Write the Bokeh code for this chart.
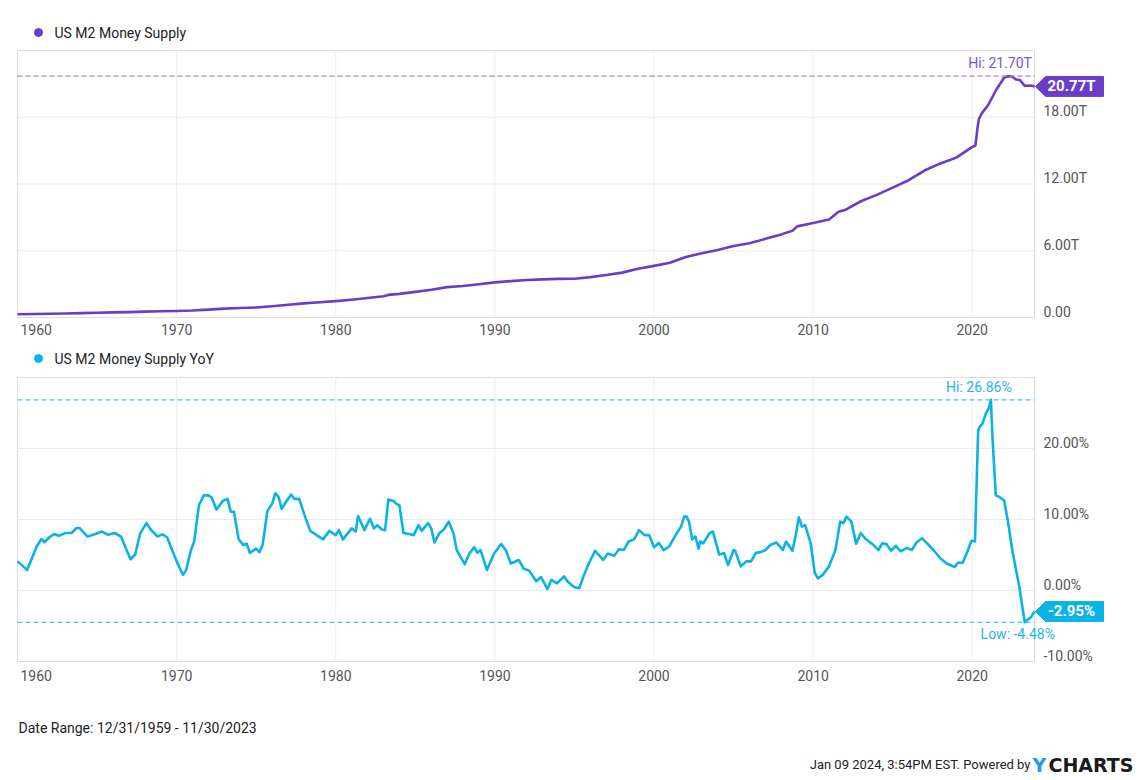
import numpy as np
from bokeh.plotting import figure
from bokeh.layouts import column
from bokeh.models import Range1d, FixedTicker
from bokeh.embed import file_html
from bokeh.resources import INLINE
from bokeh.core.properties import value

FONT = "Roboto"
PURPLE = "#6a3dc8"
PURPLE_LIGHT = "#9d80e0"
PURPLE_TEXT = "#7b55d4"
CYAN = "#0ab3e6"
CYAN_LIGHT = "#4cc6ec"
CYAN_TEXT = "#27b6e6"
GRID = "#ebebeb"
FRAME = "#dedede"
TICK_TXT = "#555555"
TXT = "#222222"

# ---------------- data ----------------
series_names = ["US M2 Money Supply", "US M2 Money Supply YoY"]
date_range_text = "Date Range: 12/31/1959 - 11/30/2023"
stamp_text = "Jan 09 2024, 3:54PM EST. Powered by"
logo_parts = ["Y", "CHARTS"]

m2_years = [1960.0, 1961.0, 1962.0, 1963.0, 1964.0, 1965.0, 1966.0, 1967.0, 1968.0, 1969.0,
            1970.0, 1971.0, 1972.0, 1973.0, 1974.0, 1975.0, 1976.0, 1977.0, 1978.0, 1979.0,
            1980.0, 1981.0, 1982.0, 1983.0, 1983.3, 1984.0, 1985.0, 1986.0, 1987.0, 1988.0,
            1989.0, 1990.0, 1991.0, 1992.0, 1993.0, 1994.0, 1995.0, 1996.0, 1997.0, 1998.0,
            1999.0, 2000.0, 2001.0, 2002.0, 2003.0, 2004.0, 2005.0, 2006.0, 2007.0, 2008.0,
            2008.7, 2009.0, 2010.0, 2011.0, 2011.6, 2012.0, 2013.0, 2014.0, 2015.0, 2016.0,
            2017.0, 2018.0, 2019.0, 2020.0, 2020.2, 2020.25, 2020.33, 2020.42, 2020.6, 2021.0,
            2021.5, 2022.0, 2022.25, 2022.5, 2022.75, 2023.0, 2023.3, 2023.5, 2023.75, 2023.92]
m2_values = [0.297, 0.312, 0.335, 0.362, 0.393, 0.424, 0.459, 0.480, 0.525, 0.567,
             0.588, 0.627, 0.711, 0.802, 0.856, 0.902, 1.017, 1.152, 1.271, 1.367,
             1.474, 1.600, 1.756, 1.906, 2.030, 2.124, 2.306, 2.492, 2.729, 2.828,
             2.990, 3.154, 3.272, 3.372, 3.424, 3.474, 3.486, 3.630, 3.819, 4.033,
             4.375, 4.638, 4.925, 5.433, 5.772, 6.067, 6.419, 6.680, 7.069, 7.471,
             7.800, 8.192, 8.496, 8.800, 9.500, 9.660, 10.45, 11.02, 11.68, 12.34,
             13.21, 13.85, 14.37, 15.33, 15.46, 16.05, 17.05, 17.85, 18.35, 19.10,
             20.45, 21.55, 21.70, 21.66, 21.40, 21.35, 20.82, 20.85, 20.83, 20.77]

yoy_years = [1960.0, 1960.3, 1960.6, 1960.9, 1961.2, 1961.5, 1961.7, 1962.0, 1962.3, 1962.6,
             1963.0, 1963.4, 1963.7, 1963.9, 1964.4, 1964.9, 1965.3, 1965.7, 1966.1, 1966.5,
             1966.8, 1967.1, 1967.4, 1967.7, 1968.1, 1968.4, 1968.8, 1969.1, 1969.4, 1969.8,
             1970.1, 1970.4, 1970.6, 1970.9, 1971.1, 1971.4, 1971.7, 1972.0, 1972.2, 1972.5,
             1972.9, 1973.2, 1973.4, 1973.6, 1973.9, 1974.2, 1974.4, 1974.6, 1975.0, 1975.2,
             1975.4, 1975.7, 1976.0, 1976.2, 1976.4, 1976.6, 1976.9, 1977.2, 1977.4, 1977.7,
             1978.1, 1978.4, 1978.8, 1979.2, 1979.6, 1980.0, 1980.2, 1980.45, 1981.0, 1981.25,
             1981.4, 1981.8, 1982.15, 1982.4, 1982.6, 1982.9, 1983.1, 1983.3, 1983.65, 1983.8,
             1984.0, 1984.25, 1984.6, 1984.9, 1985.2, 1985.4, 1985.8, 1986.0, 1986.2, 1986.5,
             1986.8, 1987.1, 1987.4, 1987.6, 1988.1, 1988.4, 1988.7, 1988.9, 1989.1, 1989.5,
             1989.95, 1990.4, 1990.7, 1991.0, 1991.5, 1991.8, 1992.15, 1992.6, 1992.9, 1993.3,
             1993.55, 1993.9, 1994.35, 1994.55, 1994.97, 1995.3, 1995.6, 1995.9, 1996.3, 1996.8,
             1997.1, 1997.5, 1997.8, 1998.1, 1998.4, 1998.75, 1999.06, 1999.4, 1999.7, 2000.0,
             2000.3, 2000.6, 2000.95, 2001.36, 2001.7, 2001.9, 2002.05, 2002.2, 2002.4, 2002.6,
             2002.8, 2002.9, 2003.1, 2003.5, 2003.7, 2004.1, 2004.4, 2004.65, 2005.0, 2005.1,
             2005.45, 2005.8, 2006.1, 2006.4, 2006.7, 2007.0, 2007.3, 2007.7, 2008.1, 2008.3,
             2008.7, 2008.9, 2009.1, 2009.3, 2009.5, 2009.85, 2010.1, 2010.3, 2010.6, 2011.0,
             2011.4, 2011.7, 2011.9, 2012.1, 2012.4, 2012.7, 2013.0, 2013.3, 2013.8, 2014.1,
             2014.35, 2014.6, 2014.9, 2015.2, 2015.5, 2015.9, 2016.2, 2016.5, 2016.85, 2017.2,
             2017.6, 2018.0, 2018.4, 2018.9, 2019.1, 2019.4, 2019.7, 2019.95, 2020.17, 2020.37,
             2020.45, 2020.64, 2020.85, 2021.06, 2021.17, 2021.27, 2021.48, 2021.69, 2022.0, 2022.26,
             2022.53, 2022.95, 2023.3, 2023.5, 2023.72, 2023.92]
yoy_values = [4.1, 3.5, 2.9, 4.5, 6.2, 7.25, 6.8, 7.5, 7.95, 7.7,
              8.1, 8.1, 8.8, 8.8, 7.6, 7.95, 8.3, 7.85, 8.1, 7.6,
              6.0, 4.4, 5.1, 8.0, 9.5, 8.5, 7.6, 7.9, 7.5, 5.2,
              3.6, 2.2, 2.9, 5.7, 6.9, 12.0, 13.4, 13.4, 13.1, 11.4,
              12.6, 12.9, 11.1, 11.1, 7.2, 6.4, 6.6, 5.3, 5.9, 5.4,
              6.4, 11.2, 12.2, 13.7, 13.2, 11.5, 12.6, 13.5, 12.9, 12.9,
              10.2, 8.4, 7.8, 7.2, 8.4, 7.8, 8.5, 7.2, 8.75, 8.3,
              10.5, 8.5, 10.1, 8.75, 9.2, 8.6, 8.5, 12.8, 12.6, 12.2,
              12.0, 8.1, 7.95, 7.8, 9.2, 8.4, 9.5, 8.75, 6.75, 8.05,
              8.6, 9.7, 8.05, 5.7, 3.7, 5.2, 6.1, 5.3, 5.7, 2.9,
              5.2, 6.55, 5.6, 3.8, 4.3, 3.1, 2.8, 1.3, 1.9, 0.2,
              1.5, 1.0, 2.0, 1.3, 0.5, 0.3, 2.2, 3.8, 5.6, 4.3,
              5.2, 4.9, 5.8, 5.7, 6.9, 7.2, 8.5, 7.8, 7.8, 6.1,
              6.7, 5.7, 6.2, 7.8, 9.0, 10.4, 10.4, 9.7, 7.2, 7.6,
              5.9, 6.9, 6.65, 8.1, 8.3, 5.05, 5.3, 3.6, 5.7, 5.6,
              3.4, 4.1, 4.1, 5.3, 5.4, 5.7, 6.4, 6.75, 5.7, 6.9,
              5.6, 7.7, 10.3, 9.0, 9.2, 6.65, 2.5, 1.7, 2.2, 3.4,
              5.7, 9.7, 9.5, 10.4, 9.7, 6.6, 8.1, 7.25, 6.4, 5.7,
              6.65, 6.55, 5.6, 6.3, 5.5, 6.0, 5.7, 6.75, 7.35, 6.55,
              5.6, 4.5, 3.8, 3.3, 3.9, 3.9, 5.5, 7.0, 6.9, 22.5,
              23.0, 23.5, 24.9, 25.8, 26.86, 21.6, 13.4, 13.2, 12.7, 9.5,
              5.5, 0.6, -4.48, -4.1, -3.65, -2.95]

x_tick_years = [1970, 1980, 1990, 2000, 2010, 2020]
first_year_label = "1960"

m2_ticks = [0, 6, 12, 18]
m2_tick_labels = ["0.00", "6.00T", "12.00T", "18.00T"]
yoy_ticks = [-10, 0, 10, 20]
yoy_tick_labels = ["-10.00%", "0.00%", "10.00%", "20.00%"]

# ---------------- layout (pixels) ----------------
X_START = 1959 + 364 / 365      # 12/31/1959
X_END = 2023 + 333 / 365        # 11/30/2023
W = 1137                        # figure / frame width
BOX_L = 17                      # plot box left edge
BOX_W = 1017                    # plot box width
DX = (X_END - X_START) / BOX_W  # years per pixel
X_LO = X_START - BOX_L * DX
X_HI = X_START + (W - BOX_L) * DX


def make_panel(xs, ys, color, light, txt_color, name, y_start, y_end, ticks, tick_labels,
               box_h, head, legend_gap, standoff, suffix, show_low, hi_dx, lo_dx):
    dy = (y_end - y_start) / box_h
    frame_h = head + box_h + 1
    p = figure(frame_width=W, frame_height=frame_h,
               x_range=Range1d(X_LO, X_HI), y_range=Range1d(y_start - dy, y_end + head * dy),
               output_backend="svg", toolbar_location=None,
               min_border_left=0, min_border_right=0, min_border_top=0, min_border_bottom=24,
               y_axis_location=None, background_fill_color="white",
               border_fill_color="white")
    p.outline_line_color = None
    p.grid.visible = False

    # x axis (the first label sits just inside the box, as in the original)
    first_pos = X_START + 18.7 * DX
    tick_pos = [first_pos] + x_tick_years
    p.xaxis.ticker = FixedTicker(ticks=tick_pos)
    overrides = {t: str(t) for t in x_tick_years}
    overrides[first_pos] = first_year_label
    p.xaxis.major_label_overrides = overrides
    p.xaxis.axis_line_color = None
    p.xaxis.major_tick_line_color = None
    p.xaxis.minor_tick_line_color = None
    p.xaxis.major_tick_out = 0
    p.xaxis.major_tick_in = 0
    p.xaxis.minor_tick_out = 0
    p.xaxis.minor_tick_in = 0
    p.xaxis.major_label_standoff = standoff
    p.xaxis.major_label_text_font = FONT
    p.xaxis.major_label_text_font_size = "14px"
    p.xaxis.major_label_text_color = TICK_TXT

    # grid inside the plot box
    p.segment(x0=x_tick_years, y0=[y_start] * len(x_tick_years), x1=x_tick_years,
              y1=[y_end] * len(x_tick_years), line_color=GRID, line_width=1)
    p.segment(x0=[X_START] * len(ticks), y0=ticks, x1=[X_END] * len(ticks), y1=ticks,
              line_color=GRID, line_width=1)
    # plot box
    p.quad(left=[X_START], right=[X_END], bottom=[y_start], top=[y_end],
           fill_alpha=0, line_color=FRAME, line_width=1)

    # y tick labels on the right, floating just above their gridlines
    p.text(x=[X_END + 9 * DX] * len(ticks), y=[t + 6 * dy for t in ticks], text=tick_labels,
           text_font=value(FONT), text_font_size="14px", text_color=TICK_TXT,
           text_align="left", text_baseline="middle")

    # series line
    p.line(xs, ys, line_color=color, line_width=2.6, line_join="round")

    # hi / low markers
    arr = np.array(ys)
    i_hi = int(np.argmax(arr))
    hi = float(arr[i_hi])
    p.segment(x0=[X_START], y0=[hi], x1=[X_END], y1=[hi], line_color=light,
              line_width=1.3, line_dash="5 3")
    p.text(x=[xs[i_hi] + hi_dx * DX], y=[hi + 5 * dy], text=[f"Hi: {hi:.2f}{suffix}"],
           text_font=value(FONT), text_font_size="14px", text_color=txt_color,
           text_align="center", text_baseline="bottom")
    if show_low:
        i_lo = int(np.argmin(arr))
        lo = float(arr[i_lo])
        p.segment(x0=[X_START], y0=[lo], x1=[X_END], y1=[lo], line_color=light,
                  line_width=1.3, line_dash="5 3")
        p.text(x=[xs[i_lo] + lo_dx * DX], y=[lo - 4 * dy], text=[f"Low: {lo:.2f}{suffix}"],
               text_font=value(FONT), text_font_size="14px", text_color=txt_color,
               text_align="center", text_baseline="top")

    # last value flag: pointer + box
    last = ys[-1]
    fx = [X_END + k * DX for k in (1, 11, 69, 69, 11)]
    fy = [last, last + 10 * dy, last + 10 * dy, last - 10 * dy, last - 10 * dy]
    p.patch(fx, fy, fill_color=color, line_color=color, line_width=1)
    p.text(x=[X_END + 37 * DX], y=[last], text=[f"{last:.2f}{suffix}"],
           text_font=value(FONT), text_font_size="15px", text_font_style="bold",
           text_color="white", text_align="center", text_baseline="middle")

    # legend (dot + name) above the box
    ly = y_end + legend_gap * dy
    p.scatter(x=[X_START + 21 * DX], y=[ly], marker="circle", size=8, color=color)
    p.text(x=[X_START + 37 * DX], y=[ly], text=[name], text_font=value(FONT),
           text_font_size="14px", text_color=TXT, text_align="left", text_baseline="middle")
    return p


p1 = make_panel(m2_years, m2_values, PURPLE, PURPLE_LIGHT, PURPLE_TEXT, series_names[0],
                0, 24, m2_ticks, m2_tick_labels, 267, 50, 18, 5, "T", False, -8, 0)
p2 = make_panel(yoy_years, yoy_values, CYAN, CYAN_LIGHT, CYAN_TEXT, series_names[1],
                -10, 30, yoy_ticks, yoy_tick_labels, 284, 35, 19, 7, "%", True, -12, -7)

# footer
FH = 89
pf = figure(frame_width=W, frame_height=FH, x_range=Range1d(0, W), y_range=Range1d(0, FH),
            output_backend="svg", toolbar_location=None, x_axis_location=None,
            y_axis_location=None, min_border_left=0, min_border_right=0,
            min_border_top=0, min_border_bottom=0)
pf.outline_line_color = None
pf.grid.visible = False
pf.text(x=[18], y=[48], text=[date_range_text], text_font=value(FONT),
        text_font_size="14px", text_baseline="middle", text_align="left", text_color=TXT)
pf.text(x=[1030], y=[11], text=[stamp_text], text_font=value(FONT),
        text_font_size="13px", text_baseline="middle", text_align="right", text_color=TXT)
pf.text(x=[1032], y=[11], text=[logo_parts[0]], text_font=value("DejaVu Sans"),
        text_font_size="19px", text_font_style="bold", text_baseline="middle",
        text_align="left", text_color="#2196f3")
pf.text(x=[1048], y=[11], text=[logo_parts[1]], text_font=value("DejaVu Sans"),
        text_font_size="19px", text_font_style="bold", text_baseline="middle",
        text_align="left", text_color="#1b1b1b")

layout = column(p1, p2, pf, spacing=0)
open("out.html", "w").write(file_html(layout, INLINE))
